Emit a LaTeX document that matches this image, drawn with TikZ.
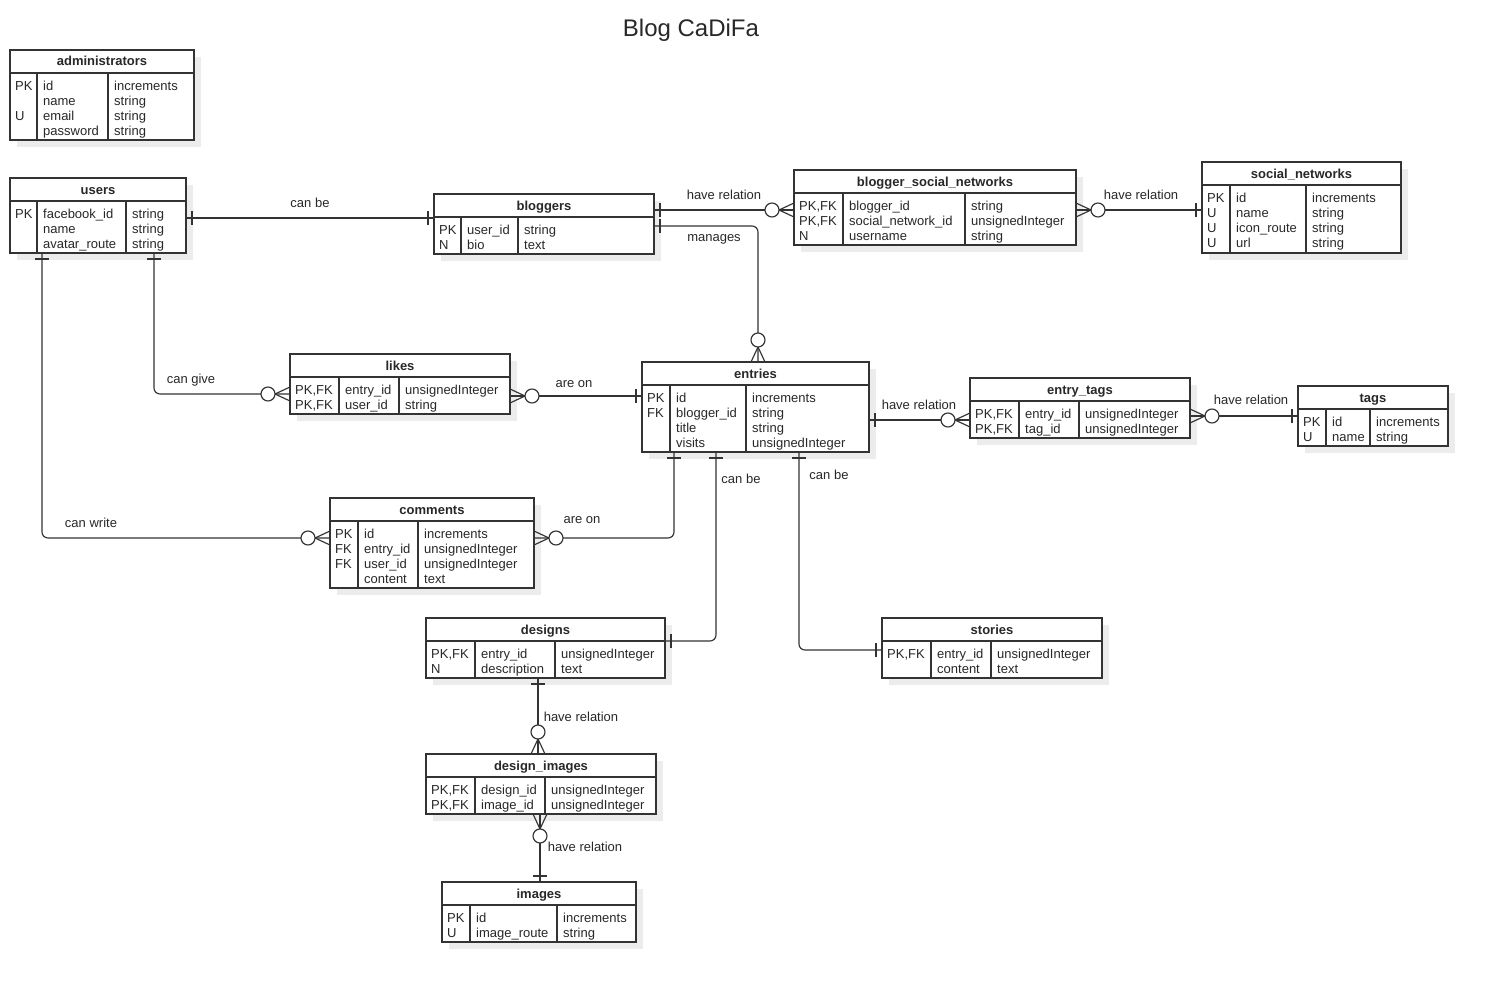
\documentclass[tikz,border=0pt]{standalone}
\usepackage{fontspec}
\setmainfont{Liberation Sans}
\usetikzlibrary{calc}
\definecolor{lnc}{RGB}{51,51,51}
\definecolor{txc}{RGB}{40,40,40}
\definecolor{shc}{RGB}{236,236,236}
\tikzset{
  ln/.style={draw=lnc,line width=1.15pt},
  tbl/.style={draw=lnc,line width=1.15pt,fill=white,inner sep=0pt,outer sep=0pt},
  txt/.style={inner sep=0pt,text=txc,font=\fontsize{13}{15}\selectfont},
  ttl/.style={inner sep=0pt,text=txc,font=\fontsize{13}{15}\selectfont\bfseries},
  lbl/.style={inner sep=0pt,text=txc,font=\fontsize{13}{15}\selectfont,anchor=base},
  conn/.style={ln,rounded corners=6pt}
}
\newcommand{\ertable}[9]{%
  \fill[shc] (#2+7,#3+7) rectangle (#4+7,#5+7);
  \node[tbl,anchor=north west,minimum width={(#4-#2)*1pt},minimum height={(#5-#3)*1pt}] (#1) at (#2,#3) {};
  \draw[ln] (#2,#3+23) -- (#4,#3+23);
  \draw[ln] (#6,#3+23) -- (#6,#5);
  \draw[ln] (#7,#3+23) -- (#7,#5);
  \node[ttl,anchor=base] (#1-t) at ({(#2+#4)/2},#3+16) {#8};
  \foreach \a/\b/\c [count=\i from 0] in {#9} {
    \node[txt,anchor=base west] (#1-a\i) at (#2+5,#3+40.5+15*\i) {\a};
    \node[txt,anchor=base west] (#1-b\i) at (#6+6,#3+40.5+15*\i) {\b};
    \node[txt,anchor=base west] (#1-c\i) at (#7+6,#3+40.5+15*\i) {\c};
  }
}
\newcommand{\mone}[2]{\begin{scope}[shift={(#1)},rotate=#2]\draw[ln] (6,-7) -- (6,7);\end{scope}}
\newcommand{\mzm}[2]{\begin{scope}[shift={(#1)},rotate=#2]\draw[ln] (0,-7) -- (15,0) -- (0,7);\filldraw[ln,fill=white] (22,0) circle[radius=7];\end{scope}}
\begin{document}
\begin{tikzpicture}[x=1pt,y=-1pt]
\fill[white] (0,0) rectangle (1488,982);
\useasboundingbox (0,0) rectangle (1488,982);
\node[inner sep=0pt,text=txc,font=\fontsize{24}{28}\selectfont,anchor=base] (title) at (691,37) {Blog CaDiFa};

\ertable{adm}{10}{50}{194}{140}{37}{108}{administrators}{PK/id/increments,/name/string,U/email/string,/password/string}
\ertable{users}{10}{178}{186}{253}{37}{126}{users}{PK/facebook\_id/string,/name/string,/avatar\_route/string}
\ertable{bloggers}{434}{194}{654}{254}{461}{518}{bloggers}{PK/user\_id/string,N/bio/text}
\ertable{bsn}{794}{170}{1076}{245}{843}{965}{blogger\_social\_networks}{{PK,FK}/blogger\_id/string,{PK,FK}/social\_network\_id/unsignedInteger,N/username/string}
\ertable{sn}{1202}{162}{1401}{253}{1230}{1306}{social\_networks}{PK/id/increments,U/name/string,U/icon\_route/string,U/url/string}
\ertable{likes}{290}{354}{510}{414}{339}{399}{likes}{{PK,FK}/entry\_id/unsignedInteger,{PK,FK}/user\_id/string}
\ertable{entries}{642}{362}{869}{452}{670}{746}{entries}{PK/id/increments,FK/blogger\_id/string,/title/string,/visits/unsignedInteger}
\ertable{etags}{970}{378}{1190}{438}{1019}{1079}{entry\_tags}{{PK,FK}/entry\_id/unsignedInteger,{PK,FK}/tag\_id/unsignedInteger}
\ertable{tags}{1298}{386}{1448}{446}{1326}{1370}{tags}{PK/id/increments,U/name/string}
\ertable{comments}{330}{498}{534}{588}{358}{418}{comments}{PK/id/increments,FK/entry\_id/unsignedInteger,FK/user\_id/unsignedInteger,/content/text}
\ertable{designs}{426}{618}{665}{678}{475}{555}{designs}{{PK,FK}/entry\_id/unsignedInteger,N/description/text}
\ertable{stories}{882}{618}{1102}{678}{931}{991}{stories}{{PK,FK}/entry\_id/unsignedInteger,/content/text}
\ertable{dimg}{426}{754}{656}{814}{475}{545}{design\_images}{{PK,FK}/design\_id/unsignedInteger,{PK,FK}/image\_id/unsignedInteger}
\ertable{images}{442}{882}{636}{942}{470}{557}{images}{PK/id/increments,U/image\_route/string}

% connection points
\coordinate (c1a) at ($(users.north east)+(0,40)$);
\coordinate (c1b) at ($(bloggers.north west)+(0,24)$);
\coordinate (c2a) at ($(bloggers.north east)+(0,16)$);
\coordinate (c2b) at ($(bsn.north west)+(0,40)$);
\coordinate (c3a) at ($(bsn.north east)+(0,40)$);
\coordinate (c3b) at ($(sn.north west)+(0,48)$);
\coordinate (c4a) at ($(bloggers.north east)+(0,32)$);
\coordinate (c4b) at ($(entries.north west)+(116,0)$);
\coordinate (c5a) at ($(users.south west)+(144,0)$);
\coordinate (c5b) at ($(likes.north west)+(0,40)$);
\coordinate (c6a) at ($(likes.north east)+(0,42)$);
\coordinate (c6b) at ($(entries.north west)+(0,34)$);
\coordinate (c7a) at ($(entries.north east)+(0,58)$);
\coordinate (c7b) at ($(etags.north west)+(0,42)$);
\coordinate (c8a) at ($(etags.north east)+(0,38)$);
\coordinate (c8b) at ($(tags.north west)+(0,30)$);
\coordinate (c9a) at ($(users.south west)+(32,0)$);
\coordinate (c9b) at ($(comments.north west)+(0,40)$);
\coordinate (c10a) at ($(entries.south west)+(32,0)$);
\coordinate (c10b) at ($(comments.north east)+(0,40)$);
\coordinate (c11a) at ($(entries.south west)+(74,0)$);
\coordinate (c11b) at ($(designs.north east)+(0,23)$);
\coordinate (c12a) at ($(entries.south west)+(157,0)$);
\coordinate (c12b) at ($(stories.north west)+(0,32)$);
\coordinate (c13a) at ($(designs.south west)+(112,0)$);
\coordinate (c13b) at ($(dimg.north west)+(112,0)$);
\coordinate (c14a) at ($(dimg.south west)+(114,0)$);
\coordinate (c14b) at ($(images.north west)+(98,0)$);

% connectors
\draw[conn] (c1a) -- (c1b);
\draw[conn] (c2a) -- (c2b);
\draw[conn] (c3a) -- (c3b);
\draw[conn] (c4a) -| (c4b);
\draw[conn] (c5a) |- (c5b);
\draw[conn] (c6a) -- (c6b);
\draw[conn] (c7a) -- (c7b);
\draw[conn] (c8a) -- (c8b);
\draw[conn] (c9a) |- (c9b);
\draw[conn] (c10a) |- (c10b);
\draw[conn] (c11a) |- (c11b);
\draw[conn] (c12a) |- (c12b);
\draw[conn] (c13a) -- (c13b);
\draw[conn] (c14a) -- (c14b);

% end marks
\mone{c1a}{0} \mone{c1b}{180}
\mone{c2a}{0} \mzm{c2b}{180}
\mzm{c3a}{0} \mone{c3b}{180}
\mone{c4a}{0} \mzm{c4b}{90}
\mone{c5a}{-90} \mzm{c5b}{180}
\mzm{c6a}{0} \mone{c6b}{180}
\mone{c7a}{0} \mzm{c7b}{180}
\mzm{c8a}{0} \mone{c8b}{180}
\mone{c9a}{-90} \mzm{c9b}{180}
\mone{c10a}{-90} \mzm{c10b}{0}
\mone{c11a}{-90} \mone{c11b}{0}
\mone{c12a}{-90} \mone{c12b}{180}
\mone{c13a}{-90} \mzm{c13b}{90}
\mzm{c14a}{-90} \mone{c14b}{90}

% labels
\node[lbl] (l1) at (310,207) {can be};
\node[lbl] (l2) at (724,199) {have relation};
\node[lbl] (l3) at (1141,199) {have relation};
\node[lbl] (l4) at (714,241) {manages};
\node[lbl] (l5) at (191,383) {can give};
\node[lbl] (l6) at (574,387) {are on};
\node[lbl] (l7) at (919,409) {have relation};
\node[lbl] (l8) at (1251,404) {have relation};
\node[lbl] (l9) at (91,527) {can write};
\node[lbl] (l10) at (582,523) {are on};
\node[lbl] (l11) at (741,483) {can be};
\node[lbl] (l12) at (829,479) {can be};
\node[lbl] (l13) at (581,721) {have relation};
\node[lbl] (l14) at (585,851) {have relation};
\end{tikzpicture}
\end{document}
